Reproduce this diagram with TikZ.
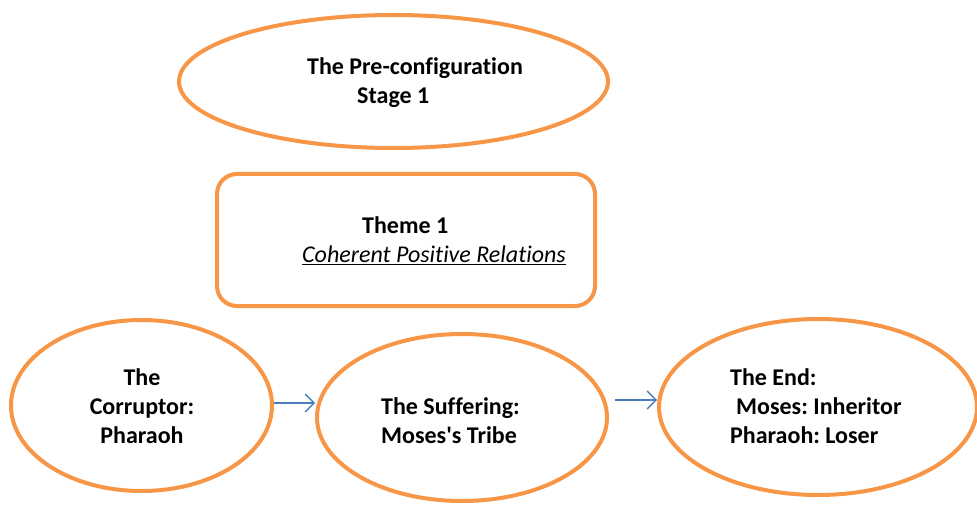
\documentclass[tikz,border=0pt]{standalone}
\usepackage{fontspec}
\setmainfont{Carlito}[Ligatures={NoCommon,TeXOff}]
\frenchspacing
\usetikzlibrary{shapes.geometric,arrows.meta}
\definecolor{accorange}{HTML}{F79646}
\definecolor{arrblue}{HTML}{4A7EBB}
\begin{document}
\begin{tikzpicture}[x=1pt,y=-1pt,
  oval/.style={draw=accorange,line width=4pt,ellipse,inner sep=0pt},
  panel/.style={draw=accorange,line width=4pt,rounded corners=20pt,inner sep=0pt},
  txt/.style={inner sep=0pt,font=\fontsize{24}{29}\selectfont\bfseries},
  arr/.style={draw=arrblue,line width=1.3pt,-{Straight Barb[length=9pt,width=18pt,line width=1.3pt]}}]
\useasboundingbox (0,0) rectangle (977,505);
% shapes
\node[oval,minimum width=429pt,minimum height=133pt] (pre) at (393.5,81.5) {};
\node[panel,minimum width=378pt,minimum height=132pt] (theme) at (406,240) {};
\node[oval,minimum width=261pt,minimum height=171pt] (corr) at (141.5,405.5) {};
\node[oval,minimum width=290pt,minimum height=167pt] (suff) at (462,417.5) {};
\node[oval,minimum width=318pt,minimum height=176pt] (fin) at (818,407) {};
% texts
\node[txt,anchor=west,align=left] (pretxt) at (307,82.5) {The Pre-configuration\\\hspace*{50pt}Stage 1};
\node[txt,anchor=west,align=left] (themetxt) at (302,241) {\hspace*{60pt}Theme 1\\{\mdseries\itshape\underline{Coherent Positive Relations}}};
\node[txt,align=center] (corrtxt) at (142,406) {The\\Corruptor:\\Pharaoh};
\node[txt,anchor=west,align=left] (sufftxt) at (381,421) {The Suffering:\\Moses's Tribe};
\node[txt,anchor=west,align=left] (fintxt) at (730,406.5) {The End:\\\hspace*{6pt}Moses: Inheritor\\Pharaoh: Loser};
% connectors
\coordinate (a1) at ([yshift=2.5pt]corr.east);
\draw[arr] (a1) -- (a1 -| suff.west);
\coordinate (a2) at ([xshift=6pt,yshift=17.5pt]suff.east);
\draw[arr] (a2) -- (a2 -| fin.west);
\end{tikzpicture}
\end{document}
